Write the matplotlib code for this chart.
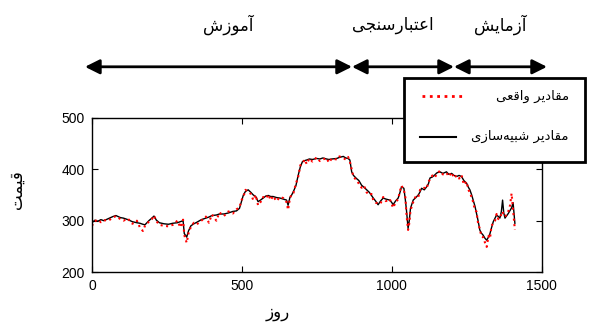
import matplotlib
matplotlib.use("Agg")
import matplotlib.pyplot as plt
from matplotlib.patches import Rectangle
from matplotlib.lines import Line2D

# days and prices
days = [0, 10, 20, 30, 40, 55, 70, 80, 95, 105, 120, 135, 150, 160, 170, 177, 190, 200, 207, 215,
        225, 240, 255, 270, 285, 295, 304, 308, 316, 322, 330, 340, 350, 365, 380, 390, 400, 415, 425, 440,
        455, 470, 482, 492, 499, 505, 512, 521, 530, 538, 546, 554, 562, 571, 580, 588, 596, 604, 615, 627,
        638, 649, 654, 660, 666, 672, 680, 688, 695, 702, 710, 716, 725, 735, 749, 760, 770, 782, 790, 800,
        816, 825, 838, 846, 854, 860, 866, 872, 882, 890, 899, 907, 916, 925, 932, 938, 946, 954, 962, 971,
        980, 993, 1000, 1004, 1012, 1021, 1027, 1032, 1040, 1045, 1049, 1054, 1058, 1062, 1071, 1080, 1088, 1094, 1099, 1108,
        1116, 1122, 1127, 1135, 1143, 1150, 1160, 1170, 1182, 1190, 1199, 1207, 1216, 1224, 1232, 1240, 1249, 1255, 1260, 1266,
        1271, 1277, 1282, 1288, 1293, 1298, 1304, 1310, 1316, 1322, 1327, 1332, 1338, 1344, 1349, 1355, 1360, 1365, 1369, 1373,
        1377, 1383, 1388, 1394, 1399, 1404, 1410]

simulated = [296, 301, 299, 302, 300, 304, 308, 310, 306, 305, 302, 298, 296, 295, 293, 292, 300, 305, 309, 301,
             296, 294, 293, 295, 296, 298, 300, 275, 268, 280, 290, 294, 297, 302, 305, 307, 310, 311, 313, 313,
             315, 318, 319, 324, 338, 350, 357, 360, 355, 350, 347, 337, 340, 344, 348, 349, 347, 347, 345, 344,
             342, 340, 330, 345, 350, 357, 368, 389, 405, 415, 417, 418, 420, 419, 421, 420, 422, 420, 419, 420,
             421, 423, 425, 422, 421, 418, 395, 388, 382, 378, 369, 365, 360, 355, 349, 344, 338, 331, 338, 344,
             342, 340, 335, 331, 338, 344, 355, 366, 363, 340, 318, 285, 300, 324, 340, 345, 350, 356, 363, 360,
             366, 372, 383, 385, 389, 393, 395, 392, 395, 390, 392, 388, 386, 388, 386, 378, 373, 365, 360, 350,
             340, 328, 314, 298, 282, 276, 272, 266, 262, 268, 275, 286, 298, 305, 311, 308, 305, 318, 340, 315,
             305, 310, 314, 320, 325, 335, 295]

actual = [290, 299, 302, 297, 301, 300, 306, 309, 303, 300, 304, 294, 300, 287, 280, 290, 298, 303, 310, 299,
          292, 290, 289, 292, 300, 287, 302, 272, 257, 275, 288, 296, 293, 300, 308, 296, 312, 300, 316, 309,
          318, 314, 322, 326, 340, 346, 360, 356, 352, 340, 350, 330, 336, 346, 343, 351, 340, 348, 338, 346,
          344, 336, 321, 343, 352, 354, 372, 386, 408, 412, 419, 410, 421, 415, 423, 416, 419, 422, 413, 421,
          419, 425, 422, 419, 424, 415, 400, 385, 379, 372, 364, 368, 355, 350, 352, 340, 335, 334, 333, 346,
          338, 342, 331, 325, 335, 342, 358, 368, 360, 345, 310, 282, 295, 320, 336, 348, 346, 360, 361, 364,
          362, 376, 380, 388, 384, 391, 397, 390, 393, 386, 394, 383, 388, 382, 389, 370, 376, 360, 355, 345,
          336, 320, 318, 292, 285, 270, 268, 258, 249, 270, 265, 290, 295, 300, 313, 303, 307, 312, 318, 310,
          308, 312, 318, 330, 353, 321, 282]

x_ticks = [0, 500, 1000, 1500]
y_ticks = [200, 300, 400, 500]

# phases: (label, start day, end day)
phase_names = ["آموزش", "اعتبارسنجی", "آزمایش"]
phase_start = [-23, 867, 1207]
phase_end = [867, 1207, 1517]
phase_label_x = [453, 1003, 1360]

legend_real = "مقادیر واقعی"
legend_sim = "مقادیر شبیه\u200cسازی"
x_title = "روز"
y_title = "قیمت"


# small persian shaper: matplotlib has no arabic shaping, so pick presentation forms by hand
forms = {
    "آ": ("\uFE81", "\uFE82", None, None),
    "ا": ("\uFE8D", "\uFE8E", None, None),
    "ب": ("\uFE8F", "\uFE90", "\uFE91", "\uFE92"),
    "ت": ("\uFE95", "\uFE96", "\uFE97", "\uFE98"),
    "ج": ("\uFE9D", "\uFE9E", "\uFE9F", "\uFEA0"),
    "د": ("\uFEA9", "\uFEAA", None, None),
    "ر": ("\uFEAD", "\uFEAE", None, None),
    "ز": ("\uFEAF", "\uFEB0", None, None),
    "س": ("\uFEB1", "\uFEB2", "\uFEB3", "\uFEB4"),
    "ش": ("\uFEB5", "\uFEB6", "\uFEB7", "\uFEB8"),
    "ع": ("\uFEC9", "\uFECA", "\uFECB", "\uFECC"),
    "ق": ("\uFED5", "\uFED6", "\uFED7", "\uFED8"),
    "م": ("\uFEE1", "\uFEE2", "\uFEE3", "\uFEE4"),
    "ن": ("\uFEE5", "\uFEE6", "\uFEE7", "\uFEE8"),
    "ه": ("\uFEE9", "\uFEEA", "\uFEEB", "\uFEEC"),
    "و": ("\uFEED", "\uFEEE", None, None),
    "ی": ("\uFBFC", "\uFBFD", "\uFBFE", "\uFBFF"),
}


def shape(text):
    out = []
    for i, ch in enumerate(text):
        if ch not in forms:
            if ch != "\u200c":
                out.append(ch)
            continue
        prev = text[i - 1] if i > 0 else ""
        nxt = text[i + 1] if i + 1 < len(text) else ""
        join_prev = prev in forms and forms[prev][2] is not None
        join_next = forms[ch][2] is not None and nxt in forms
        iso, fin, ini, med = forms[ch]
        if join_prev and join_next:
            out.append(med)
        elif join_prev:
            out.append(fin)
        elif join_next:
            out.append(ini)
        else:
            out.append(iso)
    return "".join(reversed(out))


fa = ["DejaVu Sans"]
plt.rcParams["font.family"] = ["Liberation Sans", "DejaVu Sans"]

fig = plt.figure(figsize=(5.89, 3.22), dpi=100)
ax = fig.add_axes([0.156, 0.155, 0.764, 0.479])

ax.plot(days, simulated, color="black", linewidth=1.0)
ax.plot(days, actual, color="red", linestyle=":", linewidth=1.5)

ax.set_xlim(0, 1500)
ax.set_ylim(200, 500)
ax.set_xticks(x_ticks)
ax.set_yticks(y_ticks)
ax.tick_params(direction="in", length=4, top=True, right=True, labelsize=10, pad=5)
for s in ax.spines.values():
    s.set_linewidth(1.0)

# phase arrows above the axes
trans = ax.get_xaxis_transform()
for name, a, b, lx in zip(phase_names, phase_start, phase_end, phase_label_x):
    ax.annotate("", xy=(b, 1.331), xytext=(a, 1.331), xycoords=trans, textcoords=trans,
                arrowprops=dict(arrowstyle="<|-|>", color="black", lw=2,
                                mutation_scale=22, shrinkA=0, shrinkB=0),
                annotation_clip=False)
    ax.text(lx, 1.604, shape(name), transform=trans, ha="center", va="center",
            fontsize=12, family=fa)

fig.text(0.472, 0.031, shape(x_title), ha="center", va="center", fontsize=12, family=fa)
fig.text(0.029, 0.41, shape(y_title), ha="center", va="center", rotation=90, fontsize=12, family=fa)

# legend box drawn by hand (rtl layout)
fig.add_artist(Rectangle((0.686, 0.497), 0.307, 0.261, transform=fig.transFigure,
                         facecolor="white", edgecolor="black", linewidth=2, zorder=10))
fig.add_artist(Line2D([0.716, 0.784], [0.702, 0.702], transform=fig.transFigure,
                      color="red", linestyle=":", linewidth=2, zorder=11))
fig.add_artist(Line2D([0.713, 0.774], [0.575, 0.575], transform=fig.transFigure,
                      color="black", linewidth=1.5, zorder=11))
fig.text(0.966, 0.702, shape(legend_real), ha="right", va="center", fontsize=9.5, family=fa, zorder=12)
fig.text(0.966, 0.575, shape(legend_sim), ha="right", va="center", fontsize=9.5, family=fa, zorder=12)

fig.savefig("out.png", dpi=100)
